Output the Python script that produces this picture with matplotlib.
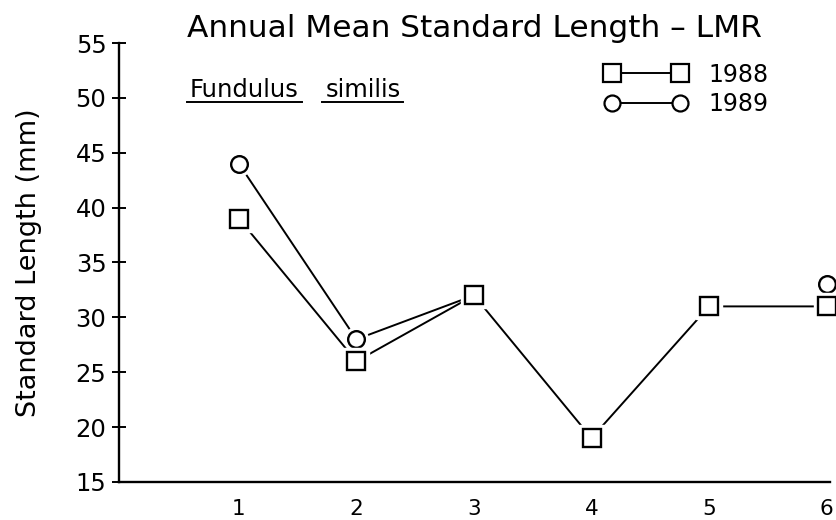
import matplotlib.pyplot as plt
from matplotlib.lines import Line2D
import numpy as np

# values
stations = [1, 2, 3, 4, 5, 6]
len_1988 = [39, 26, 32, 19, 31, 31]
len_1989 = [44, 28, 32, np.nan, np.nan, 33]
y_ticks = [15, 20, 25, 30, 35, 40, 45, 50, 55]

plt.rcParams["font.family"] = "DejaVu Sans"

fig = plt.figure(figsize=(8.36, 5.2), dpi=100)
ax = fig.add_axes([0.1423, 0.0731, 0.8507, 0.8442])


def draw_series(x, y, marker, size, z):
    """line with a little white gap round each open marker"""
    ax.plot(x, y, "-", color="black", lw=1.4, zorder=z, clip_on=False)
    ax.plot(x, y, marker, ms=size + 5, mfc="white", mec="white",
            ls="none", zorder=z + 1, clip_on=False)
    ax.plot(x, y, marker, ms=size, mfc="white", mec="black", mew=1.7,
            ls="none", zorder=z + 2, clip_on=False)


# 1988 on top so its squares hide the circle at station 3
draw_series(stations, len_1989, "o", 12, 2)
draw_series(stations, len_1988, "s", 13.5, 5)

ax.set_xlim(-0.02, 6.03)
ax.set_ylim(15, 55)
ax.set_yticks(y_ticks)
ax.set_xticks(stations)
ax.tick_params(axis="y", direction="inout", length=10, width=1.4,
               labelsize=17.5, pad=4)
ax.tick_params(axis="x", length=0, labelsize=15.5, pad=12)

for s in ["top", "right"]:
    ax.spines[s].set_visible(False)
ax.spines["left"].set_linewidth(1.7)
ax.spines["bottom"].set_linewidth(1.7)

ax.set_ylabel("Standard Length (mm)", fontsize=19.5, labelpad=24)
ax.set_title("Annual Mean Standard Length \u2013 LMR", fontsize=22.5, pad=4)

# species name, underlined word by word
for word, xpos in [("Fundulus", 0.10), ("similis", 0.29)]:
    t = ax.text(xpos, 0.878, word, transform=ax.transAxes, fontsize=17.5,
                ha="left", va="baseline")
    fig.canvas.draw()
    bb = t.get_window_extent().transformed(ax.transAxes.inverted())
    ax.plot([bb.x0 - 0.004, bb.x1 + 0.004], [bb.y0 - 0.002, bb.y0 - 0.002],
            color="black", lw=1.4, transform=ax.transAxes, clip_on=False)

handles = [
    Line2D([], [], color="black", lw=1.4, marker="s", ms=13, mfc="white",
           mec="black", mew=1.6),
    Line2D([], [], color="black", lw=1.4, marker="o", ms=11.5, mfc="white",
           mec="black", mew=1.6),
]
ax.legend(handles, ["1988", "1989"], loc="upper left",
          bbox_to_anchor=(0.684, 0.955), frameon=False, numpoints=2,
          handlelength=3.48, fontsize=17, labelspacing=0.22,
          handletextpad=0.89, borderaxespad=0, borderpad=0)

fig.savefig("out.png", dpi=100)
